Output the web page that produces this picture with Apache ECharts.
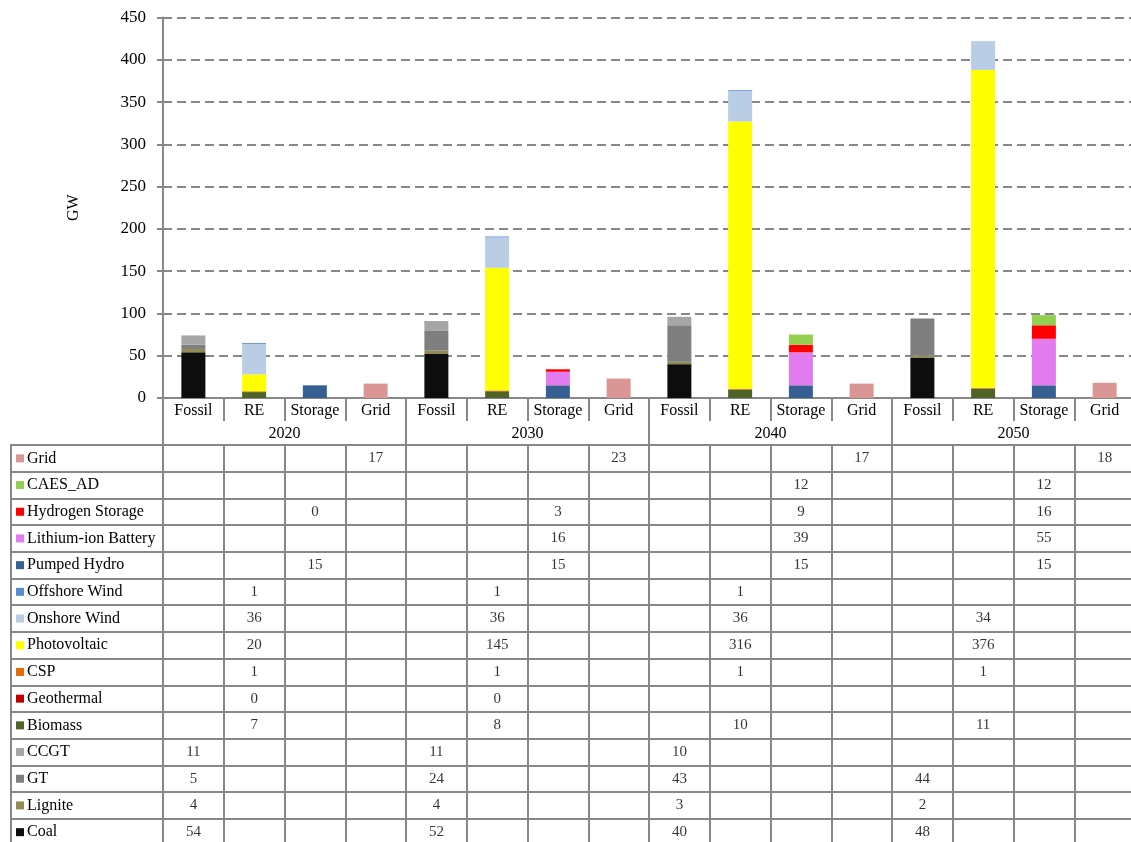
<!DOCTYPE html>
<html>
<head>
<meta charset="utf-8">
<script src="https://cdn.jsdelivr.net/npm/echarts@6/dist/echarts.min.js"></script>
<style>
  html, body { margin: 0; padding: 0; background: #ffffff; overflow: hidden; }
  #chart { width: 1131px; height: 842px; }
</style>
</head>
<body>
<div id="chart"></div>
<script>
// Installed capacity (GW) by scenario year and technology group
const years = ['2020', '2030', '2040', '2050'];
const groups = ['Fossil', 'RE', 'Storage', 'Grid'];
const yTicks = { min: 0, max: 450, interval: 50 };

// One value per year; null = not part of that year's stack
const coal            = [54, 52, 40, 48];
const lignite         = [4, 4, 3, 2];
const gt              = [5, 24, 43, 44];
const ccgt            = [11, 11, 10, null];
const biomass         = [7, 8, 10, 11];
const geothermal      = [0, 0, null, null];
const csp             = [1, 1, 1, 1];
const photovoltaic    = [20, 145, 316, 376];
const onshoreWind     = [36, 36, 36, 34];
const offshoreWind    = [1, 1, 1, null];
const pumpedHydro     = [15, 15, 15, 15];
const lithiumIon      = [null, 16, 39, 55];
const hydrogenStorage = [0, 3, 9, 16];
const caesAd          = [null, null, 12, 12];
const gridCapacity    = [17, 23, 17, 18];

// Stacking order (bottom to top); group = column within each year
const technologies = [
  { name: 'Coal',                group: 'Fossil',  values: coal,            color: '#0d0d0d' },
  { name: 'Lignite',             group: 'Fossil',  values: lignite,         color: '#948a54' },
  { name: 'GT',                  group: 'Fossil',  values: gt,              color: '#7f7f7f' },
  { name: 'CCGT',                group: 'Fossil',  values: ccgt,            color: '#a6a6a6' },
  { name: 'Biomass',             group: 'RE',      values: biomass,         color: '#4f6228' },
  { name: 'Geothermal',          group: 'RE',      values: geothermal,      color: '#c00000' },
  { name: 'CSP',                 group: 'RE',      values: csp,             color: '#e46c0a' },
  { name: 'Photovoltaic',        group: 'RE',      values: photovoltaic,    color: '#ffff00' },
  { name: 'Onshore Wind',        group: 'RE',      values: onshoreWind,     color: '#b9cde5' },
  { name: 'Offshore Wind',       group: 'RE',      values: offshoreWind,    color: '#558ed5' },
  { name: 'Pumped Hydro',        group: 'Storage', values: pumpedHydro,     color: '#376092' },
  { name: 'Lithium-ion Battery', group: 'Storage', values: lithiumIon,      color: '#e17bef' },
  { name: 'Hydrogen Storage',    group: 'Storage', values: hydrogenStorage, color: '#ff0000' },
  { name: 'CAES_AD',             group: 'Storage', values: caesAd,          color: '#92d050' },
  { name: 'Grid',                group: 'Grid',    values: gridCapacity,    color: '#d99694' }
];

const FONT = "'Liberation Serif', 'Times New Roman', serif";
const LINE = '#878787';
const PLOT_LEFT = 163;
const PLOT_WIDTH = 972;   // the last column runs slightly past the page edge

// 16 columns: every group inside every year
const columns = [];
years.forEach(() => groups.forEach(g => columns.push(g)));

function toColumns(tech) {
  const out = new Array(columns.length).fill(null);
  const gi = groups.indexOf(tech.group);
  tech.values.forEach((v, yi) => { if (v !== null) out[yi * groups.length + gi] = v; });
  return out;
}

const barSeries = technologies.map(t => ({
  name: t.name,
  type: 'bar',
  stack: 'capacity',
  xAxisIndex: 0,
  yAxisIndex: 0,
  barWidth: 24,
  itemStyle: { color: t.color },
  data: toColumns(t)
}));

// Data table rows run top-down in reverse stacking order
const rowNames = technologies.map(t => t.name).slice().reverse();
const tableCells = [];
technologies.forEach(t => {
  toColumns(t).forEach((v, ci) => { if (v !== null) tableCells.push([ci, t.name, v]); });
});

const rich = { t: { fontFamily: FONT, fontSize: 16, color: '#000', padding: [0, 0, 0, 3] } };
technologies.forEach((t, i) => {
  rich['k' + i] = { backgroundColor: t.color, width: 8, height: 8 };
});

const chart = echarts.init(document.getElementById('chart'), null, { renderer: 'canvas' });
chart.setOption({
  animation: false,
  backgroundColor: '#ffffff',
  textStyle: { fontFamily: FONT, color: '#000' },
  grid: [
    { left: PLOT_LEFT, width: PLOT_WIDTH, top: 17.5, bottom: 444, containLabel: false, outerBoundsMode: 'none' },
    { left: PLOT_LEFT, width: PLOT_WIDTH, top: 445, height: 400.5, containLabel: false, outerBoundsMode: 'none' }
  ],
  xAxis: [
    {
      gridIndex: 0, type: 'category', position: 'bottom', data: columns,
      axisLine: { show: true, lineStyle: { color: LINE, width: 2 } },
      axisTick: { show: true, interval: 0, length: 23, lineStyle: { color: LINE, width: 2 } },
      axisLabel: { interval: 0, margin: 5, fontFamily: FONT, fontSize: 16, color: '#000' },
      splitLine: { show: false }
    },
    {
      gridIndex: 0, type: 'category', position: 'bottom', offset: 0, data: years,
      axisLine: { show: false },
      axisTick: { show: true, interval: 0, length: 47, lineStyle: { color: LINE, width: 2 } },
      axisLabel: { interval: 0, margin: 28, fontFamily: FONT, fontSize: 16, color: '#000' },
      splitLine: { show: false }
    },
    {
      gridIndex: 1, type: 'category', position: 'top', data: columns,
      axisLine: { show: true, lineStyle: { color: LINE, width: 2 } },
      axisTick: { show: false },
      axisLabel: { show: false },
      splitLine: { show: true, interval: 0, lineStyle: { color: LINE, width: 2 } }
    }
  ],
  yAxis: [
    {
      gridIndex: 0, type: 'value',
      min: yTicks.min, max: yTicks.max, interval: yTicks.interval,
      name: 'GW', nameLocation: 'middle', nameGap: 81, nameRotate: 90,
      nameTextStyle: { fontFamily: FONT, fontSize: 16, color: '#000' },
      axisLine: { show: true, lineStyle: { color: LINE, width: 2 } },
      axisTick: { show: true, length: 6, lineStyle: { color: LINE, width: 2 } },
      axisLabel: { margin: 17, fontFamily: FONT, fontSize: 17, color: '#000' },
      splitLine: { show: true, lineStyle: { color: LINE, width: 2, type: [9, 5] } }
    },
    {
      gridIndex: 1, type: 'category', inverse: true, data: rowNames,
      axisLine: { show: true, lineStyle: { color: LINE, width: 2 } },
      axisTick: { show: true, interval: 0, length: 153, lineStyle: { color: LINE, width: 2 } },
      axisLabel: {
        interval: 0, align: 'left', margin: 147,
        formatter: name => {
          const i = technologies.findIndex(t => t.name === name);
          return '{k' + i + '|}{t|' + name + '}';
        },
        rich: rich
      },
      splitLine: { show: true, interval: 0, lineStyle: { color: LINE, width: 2 } }
    }
  ],
  graphic: [
    {
      type: 'line', silent: true,
      shape: { x1: 11, y1: 445, x2: 11, y2: 842 },
      style: { stroke: LINE, lineWidth: 2 }
    }
  ],
  series: barSeries.concat([
    {
      name: 'table',
      type: 'scatter',
      xAxisIndex: 2,
      yAxisIndex: 1,
      symbol: 'rect',
      symbolSize: 1,
      itemStyle: { color: 'rgba(0,0,0,0)' },
      label: {
        show: true, position: 'inside',
        formatter: p => String(p.value[2]),
        fontFamily: FONT, fontSize: 15, color: '#000'
      },
      data: tableCells
    }
  ])
});
</script>
</body>
</html>
